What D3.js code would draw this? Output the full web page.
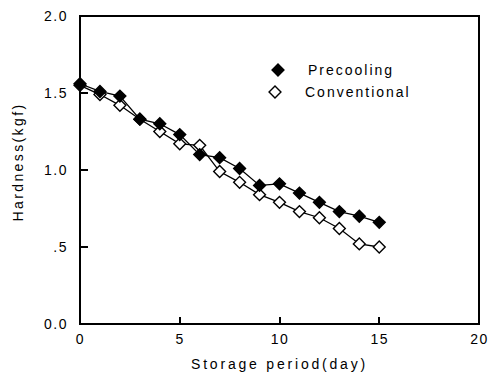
<!DOCTYPE html>
<html>
<head>
<meta charset="utf-8">
<script src="https://cdn.jsdelivr.net/npm/d3@7"></script>
<style>
  body { margin: 0; background: #fff; }
  svg text { font-family: "Liberation Sans", Arial, sans-serif; fill: #000; }
</style>
</head>
<body>
<div id="chart"></div>
<script>
// Hardness vs storage period
const days = [0, 1, 2, 3, 4, 5, 6, 7, 8, 9, 10, 11, 12, 13, 14, 15];
const precooling = [1.56, 1.51, 1.48, 1.33, 1.30, 1.23, 1.10, 1.08, 1.01, 0.90, 0.91, 0.85, 0.79, 0.73, 0.70, 0.66];
const conventional = [1.55, 1.49, 1.42, 1.33, 1.25, 1.17, 1.16, 0.99, 0.92, 0.84, 0.79, 0.73, 0.69, 0.62, 0.52, 0.50];
const xTicks = [0, 5, 10, 15, 20];
const yTicks = [0, 0.5, 1.0, 1.5, 2.0];
const yTickLabels = ["0.0", ".5", "1.0", "1.5", "2.0"];

const W = 489, H = 377;
const margin = { top: 16, right: 10, bottom: 53, left: 80 };
const width = W - margin.left - margin.right;
const height = H - margin.top - margin.bottom;

const svg = d3.select("#chart").append("svg")
  .attr("width", W)
  .attr("height", H)
  .style("display", "block");

const g = svg.append("g")
  .attr("transform", `translate(${margin.left},${margin.top})`);

const x = d3.scaleLinear().domain([0, 20]).range([0, width]);
const y = d3.scaleLinear().domain([0, 2]).range([height, 0]);

// frame: pixel-aligned 2px lines
const frame = g.append("g")
  .attr("fill", "none")
  .attr("stroke", "#000")
  .attr("stroke-width", 2)
  .attr("shape-rendering", "crispEdges");
frame.append("rect")
  .attr("x", x(0)).attr("y", y(2))
  .attr("width", x(20) - x(0)).attr("height", y(0) - y(2));

// inward ticks
const ticks = g.append("g")
  .attr("stroke", "#000")
  .attr("stroke-width", 2)
  .attr("shape-rendering", "crispEdges");
ticks.selectAll(null).data(xTicks.slice(1, -1)).enter().append("line")
  .attr("x1", d => Math.round(x(d))).attr("x2", d => Math.round(x(d)))
  .attr("y1", height).attr("y2", height - 7);
ticks.selectAll(null).data(yTicks.slice(1, -1)).enter().append("line")
  .attr("x1", 0).attr("x2", 8)
  .attr("y1", d => Math.round(y(d))).attr("y2", d => Math.round(y(d)));

// tick labels via axes (lines hidden)
const xAxis = g.append("g")
  .attr("transform", `translate(0,${height})`)
  .call(d3.axisBottom(x).tickValues(xTicks).tickSize(0).tickPadding(10));

const yAxis = g.append("g")
  .call(d3.axisLeft(y).tickValues(yTicks).tickSize(0).tickPadding(12)
    .tickFormat((d, i) => yTickLabels[i]));

[xAxis, yAxis].forEach(a => {
  a.select(".domain").remove();
  a.selectAll(".tick line").remove();
  a.selectAll("text")
    .style("font-size", "14px")
    .style("letter-spacing", "1.5px");
});

// axis titles
g.append("text")
  .attr("x", width / 2)
  .attr("y", height + 45)
  .attr("text-anchor", "middle")
  .style("font-size", "14px")
  .style("letter-spacing", "2.8px")
  .text("Storage period(day)");

g.append("text")
  .attr("transform", `translate(${-57},${height / 2 - 8}) rotate(-90)`)
  .attr("text-anchor", "middle")
  .style("font-size", "14px")
  .style("letter-spacing", "2.4px")
  .text("Hardness(kgf)");

const series = [
  { name: "Precooling", values: precooling, fill: "#000" },
  { name: "Conventional", values: conventional, fill: "#fff" }
];

const line = d3.line()
  .x((d, i) => x(days[i]))
  .y(d => y(d));

const diamond = d3.symbol().type(d3.symbolDiamond2).size(90);

series.forEach(s => {
  g.append("path")
    .datum(s.values)
    .attr("d", line)
    .attr("fill", "none")
    .attr("stroke", "#000")
    .attr("stroke-width", 1.3);
});

// conventional markers first, precooling on top
[series[1], series[0]].forEach(s => {
  g.selectAll(null)
    .data(s.values)
    .enter().append("path")
    .attr("d", diamond)
    .attr("transform", (d, i) => `translate(${x(days[i])},${y(d)})`)
    .attr("fill", s.fill)
    .attr("stroke", "#000")
    .attr("stroke-width", 1.4);
});

// legend
const legend = g.append("g");
series.forEach((s, i) => {
  const ly = 54 + i * 22;
  const lx = i === 0 ? 198 : 195;
  legend.append("path")
    .attr("d", diamond)
    .attr("transform", `translate(${lx},${ly})`)
    .attr("fill", s.fill)
    .attr("stroke", "#000")
    .attr("stroke-width", 1.4);
  legend.append("text")
    .attr("x", lx + 30)
    .attr("y", ly)
    .attr("dy", "0.35em")
    .style("font-size", "14px")
    .style("letter-spacing", "2px")
    .text(s.name);
});
</script>
</body>
</html>
